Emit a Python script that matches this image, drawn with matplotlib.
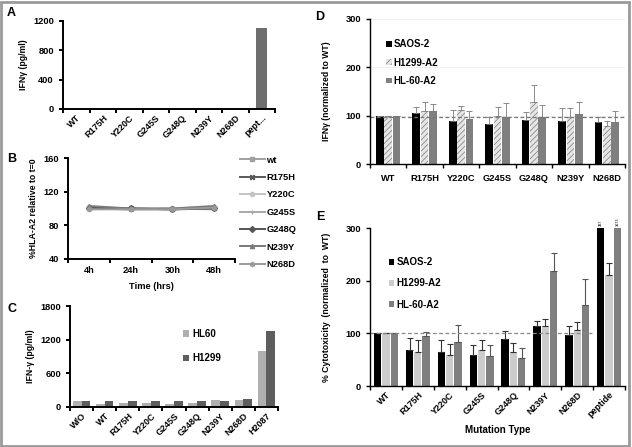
import numpy as np
import matplotlib
matplotlib.use("Agg")
import matplotlib.pyplot as plt
from matplotlib.patches import Rectangle

plt.rcParams['font.family'] = ['Liberation Sans', 'DejaVu Sans']
plt.rcParams['font.weight'] = 'bold'
plt.rcParams['axes.labelweight'] = 'bold'
plt.rcParams['hatch.linewidth'] = 0.6

W, H = 632, 447

# ---- data ------------------------------------------------------------
# A
a_labels = ['WT', 'R175H', 'Y220C', 'G245S', 'G248Q', 'N239Y', 'N268D', 'pept...']
a_vals = [0, 0, 0, 0, 0, 0, 0, 1100]

# B
b_times = ['4h', '24h', '30h', '48h']
b_series = ['wt', 'R175H', 'Y220C', 'G245S', 'G248Q', 'N239Y', 'N268D']
b_vals = [
    [100, 99, 99, 100],
    [101, 100, 99, 101],
    [102, 100, 100, 102],
    [100, 99, 100, 99],
    [101, 100, 99, 100],
    [103, 100, 100, 103],
    [99, 99, 99, 101],
]

# C
c_labels = ['W/O', 'WT', 'R175H', 'Y220C', 'G245S', 'G248Q', 'N239Y', 'N268D', 'H2087']
c_hl60 = [100, 60, 80, 80, 60, 80, 130, 130, 1000]
c_h1299 = [100, 100, 100, 100, 100, 100, 110, 140, 1350]

# D
d_labels = ['WT', 'R175H', 'Y220C', 'G245S', 'G248Q', 'N239Y', 'N268D']
d_saos = [100, 106, 90, 82, 92, 90, 87]
d_saos_err = [0, 11, 22, 15, 16, 25, 11]
d_h1299 = [100, 110, 112, 100, 129, 98, 79]
d_h1299_err = [0, 18, 8, 17, 34, 17, 11]
d_hl60 = [100, 110, 93, 97, 97, 103, 86]
d_hl60_err = [0, 14, 17, 29, 26, 25, 23]

# E
e_labels = ['WT', 'R175H', 'Y220C', 'G245S', 'G248Q', 'N239Y', 'N268D', 'peptide']
e_saos = [100, 68, 65, 58, 90, 113, 97, 387]
e_saos_err = [0, 23, 22, 20, 15, 11, 17, 0]
e_h1299 = [100, 65, 58, 69, 64, 113, 106, 211]
e_h1299_err = [0, 22, 21, 19, 17, 14, 15, 22]
e_hl60 = [100, 95, 84, 57, 53, 219, 154, 1073]
e_hl60_err = [0, 8, 32, 21, 20, 33, 49, 0]


def box(l, t, r, b):
    return [l / W, 1 - b / H, (r - l) / W, (b - t) / H]


def style(ax, lw=1.4):
    for s in ['top', 'right']:
        ax.spines[s].set_visible(False)
    for s in ['left', 'bottom']:
        ax.spines[s].set_linewidth(lw)
        ax.spines[s].set_color('black')
    ax.tick_params(axis='y', labelsize=6.7, width=lw, length=3)
    ax.set_facecolor('none')


def cat_ticks(ax, n, labels, rot=45, fs=6.5, lw=1.4):
    ax.set_xlim(-0.5, n - 0.5)
    ax.set_xticks(np.arange(n))
    ax.set_xticklabels(labels, rotation=rot, ha='right' if rot else 'center',
                       rotation_mode='anchor', fontsize=fs, fontweight='bold')
    ax.tick_params(axis='x', which='major', length=0, pad=3)
    ax.set_xticks(np.arange(n + 1) - 0.5, minor=True)
    ax.tick_params(axis='x', which='minor', length=3, width=lw)


fig = plt.figure(figsize=(W / 100, H / 100), dpi=100)
fig.patches.append(Rectangle((0.002, 0.003), 0.994, 0.993, transform=fig.transFigure,
                             fill=False, edgecolor='#9a9a9a', linewidth=2))

# ---- A ---------------------------------------------------------------
ax = fig.add_axes(box(63, 21, 275, 109))
style(ax)
x = np.arange(len(a_labels))
ax.bar(x, a_vals, width=0.4, color='#6e6e6e')
ax.set_ylim(0, 1200)
ax.set_yticks([0, 400, 800, 1200])
cat_ticks(ax, len(a_labels), a_labels)
ax.set_ylabel('IFNγ (pg/ml)', fontsize=6.3, labelpad=4)

# ---- B ---------------------------------------------------------------
ax = fig.add_axes(box(68, 158, 235, 259))
style(ax)
b_colors = ['#a0a0a0', '#5a5a5a', '#c4c4c4', '#a8a8a8', '#555555', '#7a7a7a', '#9a9a9a']
b_markers = ['s', '$\\times$', 'o', '|', 'D', '^', '$\\ast$']
xb = np.arange(len(b_times))
for name, vals, c, m in zip(b_series, b_vals, b_colors, b_markers):
    ax.plot(xb, vals, color=c, lw=1.4, marker=m, ms=3, label=name)
ax.set_ylim(40, 160)
ax.set_yticks([40, 80, 120, 160])
ax.set_xlim(-0.5, 3.5)
ax.set_xticks(xb)
ax.set_xticklabels(b_times, fontsize=6.7, fontweight='bold')
ax.tick_params(axis='x', which='major', length=0, pad=5)
ax.set_xticks(np.arange(5) - 0.5, minor=True)
ax.tick_params(axis='x', which='minor', length=3, width=1.4)
ax.set_xlabel('Time (hrs)', fontsize=6.7, labelpad=5)
ax.set_ylabel('%HLA-A2 relative to t=0', fontsize=6.3, labelpad=4)
ax.legend(loc='upper left', bbox_to_anchor=(1.01, 1.06), frameon=False, fontsize=6.7,
          handlelength=2.6, labelspacing=0.9, handletextpad=0.2, borderaxespad=0)

# ---- C ---------------------------------------------------------------
ax = fig.add_axes(box(70, 306, 278, 407))
style(ax)
xc = np.arange(len(c_labels))
ax.bar(xc - 0.19, c_hl60, width=0.38, color='#b0b0b0', label='HL60')
ax.bar(xc + 0.19, c_h1299, width=0.38, color='#5e5e5e', label='H1299')
ax.set_ylim(0, 1800)
ax.set_yticks([0, 600, 1200, 1800])
cat_ticks(ax, len(c_labels), c_labels)
ax.set_ylabel('IFN-γ (pg/ml)', fontsize=6.3, labelpad=4)
ax.legend(loc='upper left', bbox_to_anchor=(0.5, 0.86), frameon=False, fontsize=7,
          handlelength=0.6, handleheight=0.6, labelspacing=1.5, handletextpad=0.4)

# ---- D ---------------------------------------------------------------
ax = fig.add_axes(box(370, 19, 625, 164))
style(ax, lw=1.0)
xd = np.arange(len(d_labels))
bw = 0.21
ekw = dict(elinewidth=0.6, capthick=0.6, ecolor='#7a7a7a')
ax.set_axisbelow(True)
ax.grid(axis='y', color='#ececec', lw=0.6)
ax.bar(xd - 0.23, d_saos, bw, color='black', label='SAOS-2',
       yerr=[np.zeros(len(xd)), d_saos_err], capsize=2, error_kw=ekw)
ax.bar(xd, d_h1299, bw, color='#e6e6e6', edgecolor='#8a8a8a', linewidth=0, hatch='//////',
       label='H1299-A2', yerr=[np.zeros(len(xd)), d_h1299_err], capsize=2, error_kw=ekw)
ax.bar(xd + 0.23, d_hl60, bw, color='#7f7f7f', label='HL-60-A2',
       yerr=[np.zeros(len(xd)), d_hl60_err], capsize=2, error_kw=ekw)
ax.axhline(97, color='#777777', ls='--', lw=0.9, dashes=(3, 2))
ax.set_ylim(0, 300)
ax.set_yticks([0, 100, 200, 300])
cat_ticks(ax, len(d_labels), d_labels, rot=0, fs=6.7, lw=1.0)
ax.tick_params(axis='x', which='major', pad=7)
ax.set_ylabel('IFNγ (normalized to WT)', fontsize=6.2, labelpad=10)
ax.legend(loc='upper left', bbox_to_anchor=(0.03, 0.92), frameon=False, fontsize=7,
          handlelength=0.55, handleheight=0.55, labelspacing=0.85, handletextpad=0.2)

# ---- E ---------------------------------------------------------------
ax = fig.add_axes(box(370, 228, 625, 386))
style(ax, lw=1.0)
xe = np.arange(len(e_labels))
bw = 0.23
z = np.zeros(len(xe))
ax.bar(xe - 0.26, e_saos, bw, color='black', label='SAOS-2',
       yerr=[z, e_saos_err], capsize=2, error_kw=dict(elinewidth=0.8, capthick=0.8, ecolor='#333333'))
ax.bar(xe, e_h1299, bw, color='#cccccc', label='H1299-A2',
       yerr=[z, e_h1299_err], capsize=2, error_kw=dict(elinewidth=0.8, capthick=0.8, ecolor='#333333'))
ax.bar(xe + 0.26, e_hl60, bw, color='#7f7f7f', label='HL-60-A2',
       yerr=[z, e_hl60_err], capsize=2, error_kw=dict(elinewidth=0.8, capthick=0.8, ecolor='#555555'))
ax.plot([-0.5, 6.45], [100, 100], color='#888888', ls='--', lw=0.9, dashes=(3, 2))
ax.set_ylim(0, 300)
ax.set_yticks([0, 100, 200, 300])
for xx, v in [(xe[-1] - 0.26, e_saos[-1]), (xe[-1] + 0.26, e_hl60[-1])]:
    if v > 300:
        ax.text(xx, 304, str(v), rotation=90, ha='center', va='bottom',
                fontsize=2.8, color='#555555', clip_on=False)
cat_ticks(ax, len(e_labels), e_labels, lw=1.0)
ax.set_xlabel('Mutation Type', fontsize=7, labelpad=4)
ax.set_ylabel('% Cytotoxicity  (normalized  to  WT)', fontsize=6.3, labelpad=10)
ax.legend(loc='upper left', bbox_to_anchor=(0.04, 0.87), frameon=False, fontsize=7,
          handlelength=0.55, handleheight=0.55, labelspacing=1.15, handletextpad=0.2)

# ---- panel letters ----------------------------------------------------
for letter, px, py in [('A', 7, 16), ('B', 7, 162), ('C', 8, 312), ('D', 315, 20), ('E', 316, 220)]:
    fig.text(px / W, 1 - py / H, letter, fontsize=9, fontweight='bold', ha='left', va='baseline')

fig.savefig('out.png', dpi=100)
